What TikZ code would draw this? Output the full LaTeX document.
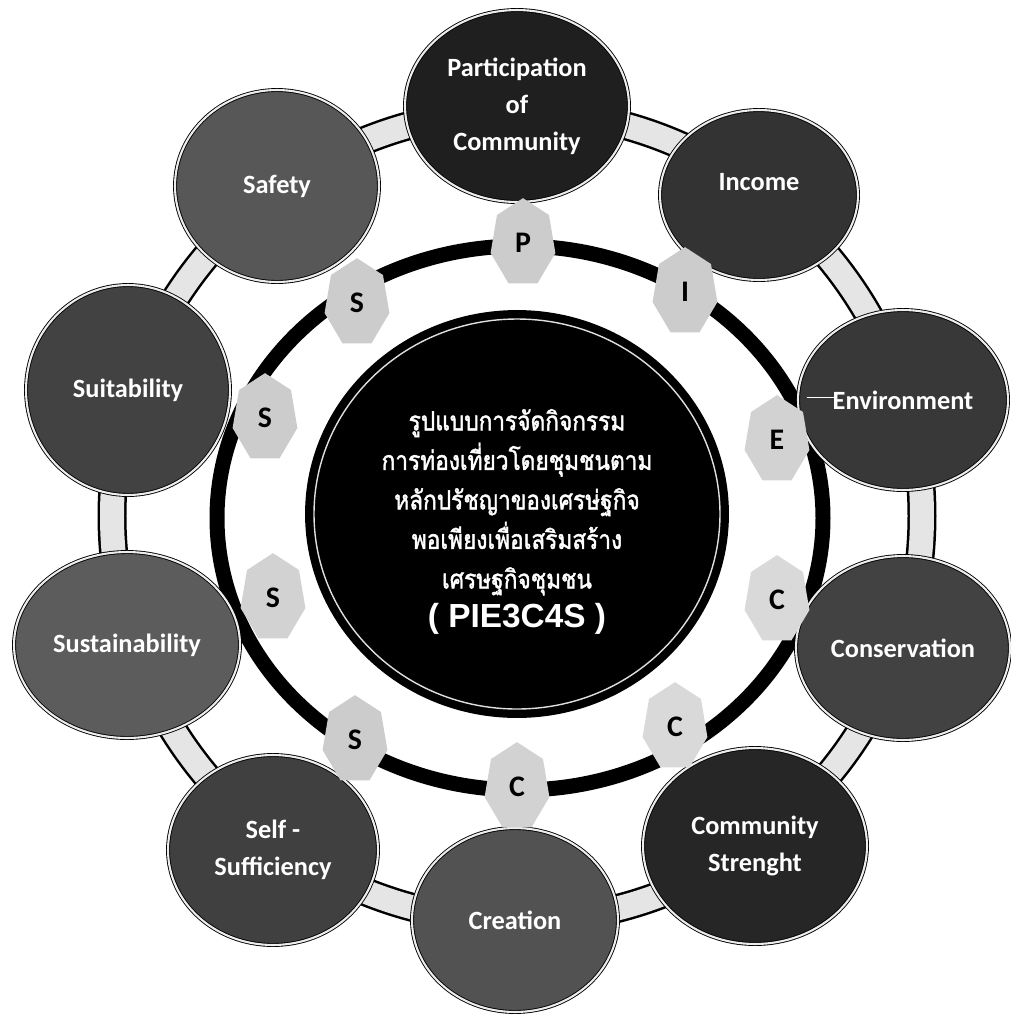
\documentclass[tikz,border=0pt]{standalone}
\usepackage{fontspec}
\setmainfont{Carlito}
\newfontfamily\thaifont[Script=Thai,FakeStretch=0.86,FakeBold=1.6]{Loma}
\newfontfamily\pief{Liberation Sans}
\usetikzlibrary{calc,shapes.geometric}
\tikzset{
    bubble/.style={
        ellipse,
        draw=black,
        line width=0.5pt,
        double=gray!15,
        double distance=1.2pt,
        inner sep=0pt,
        text=white,
        align=center,
        font=\bfseries\fontsize{15}{21}\selectfont
    },
    hepta/.style={
        regular polygon,
        regular polygon sides=7,
        minimum size=1.33cm,
        inner sep=0pt,
        fill=gray!40,
        yscale=1.35,
        transform shape
    },
    heptaletter/.style={
        font=\bfseries\fontsize{17}{18}\selectfont
    },
    core/.style={
        ellipse,
        fill=black,
        minimum width=8.48cm,
        minimum height=8.16cm,
        inner sep=0pt
    },
    coretext/.style={
        text=white,
        align=center,
        font=\thaifont\fontsize{15}{22.5}\selectfont
    }
}

\begin{document}
\begin{tikzpicture}[x=0.02cm,y=-0.02cm]

    \useasboundingbox (0,0) rectangle (1011,1019);

    %% outer band
    \draw[line width=0.58cm] (517,516) circle [radius=405];
    \draw[line width=0.48cm,gray!20] (517,516) circle [radius=405];

    %% ring and core
    \draw[line width=0.3cm] (520,518) ellipse [x radius=303, y radius=272];
    \node (C0) [core] at (517,514) {};
    \draw[gray!25,line width=0.8pt] (C0.center) ellipse [x radius=203, y radius=195];
    \node (T0) [coretext] at ($(C0.center)+(0,8)$) {รูปแบบการจัดกิจกรรม\\การท่องเที่ยวโดยชุมชนตาม\\หลักปรัชญาของเศรษ่ฐกิจ\\พอเพียงเพื่อเสริมสร้าง\\เศรษฐกิจชุมชน\\{\pief\bfseries\fontsize{19}{22}\selectfont ( PIE3C4S )}};

    %% bubbles
    \node (B1) [bubble,fill=black!88,minimum width=4.48cm,minimum height=3.84cm] at (517,106) {Participation\\of\\Community};
    \node (B2) [bubble,fill=black!80,minimum width=3.96cm,minimum height=3.40cm] at (759,195) {Income\\[-0.22cm]};
    \node (B3) [bubble,fill=black!78,minimum width=4.2cm,minimum height=3.6cm] at (903,400) {Environment};
    \draw[white] ($(B3.west)+(9,-3)$) -- ++(30,0);
    \node (B4) [bubble,fill=black!74,minimum width=4.28cm,minimum height=3.68cm] at (903,648) {Conservation};
    \node (B5) [bubble,fill=black!85,minimum width=4.48cm,minimum height=3.92cm] at (755,846) {Community\\Strenght};
    \node (B6) [bubble,fill=black!68,minimum width=4.12cm,minimum height=3.68cm] at (515,920) {Creation};
    \node (B7) [bubble,fill=black!75,minimum width=4.2cm,minimum height=3.8cm] at (273,850) {Self -\\Sufficiency};
    \node (B8) [bubble,fill=black!64,minimum width=4.52cm,minimum height=3.72cm] at (127,645) {Sustainability};
    \node (B9) [bubble,fill=black!74,minimum width=4.08cm,minimum height=4.2cm] at (128,390) {Suitability};
    \node (B10) [bubble,fill=black!66,minimum width=4.08cm,minimum height=3.84cm] at (277,186) {Safety};

    %% letters
    \node (H1) [hepta] at (523,243) {};
    \node (L1) [heptaletter] at (H1) {P};
    \node (H2) [hepta] at (685,292) {};
    \node (L2) [heptaletter] at (H2) {I};
    \node (H3) [hepta,fill=gray!35] at (777,440) {};
    \node (L3) [heptaletter] at (H3) {E};
    \node (H4) [hepta,fill=gray!30] at (777,600) {};
    \node (L4) [heptaletter] at (H4) {C};
    \node (H5) [hepta,fill=gray!30] at (675,727) {};
    \node (L5) [heptaletter] at (H5) {C};
    \node (H6) [hepta,fill=gray!35] at (517,787) {};
    \node (L6) [heptaletter] at (H6) {C};
    \node (H7) [hepta] at (355,740) {};
    \node (L7) [heptaletter] at (H7) {S};
    \node (H8) [hepta,fill=gray!35] at (273,598) {};
    \node (L8) [heptaletter] at (H8) {S};
    \node (H9) [hepta] at (265,418) {};
    \node (L9) [heptaletter] at (H9) {S};
    \node (H10) [hepta] at (357,303) {};
    \node (L10) [heptaletter] at (H10) {S};

\end{tikzpicture}
\end{document}
